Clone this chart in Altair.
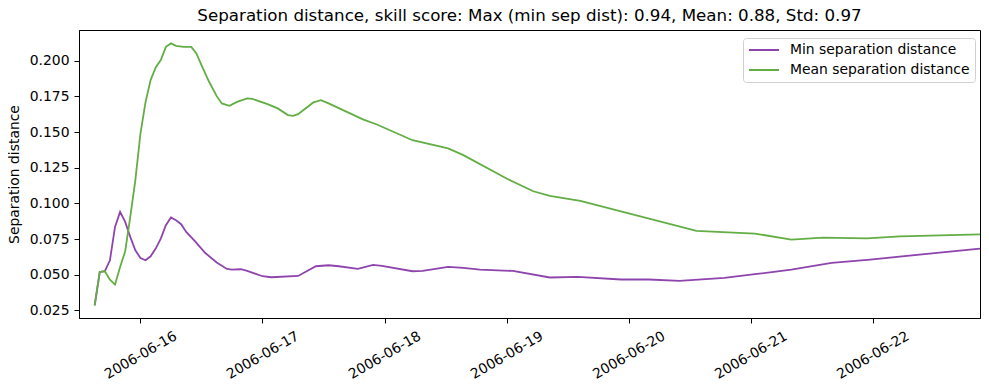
import altair as alt
import pandas as pd

TITLE = "Separation distance, skill score: Max (min sep dist): 0.94, Mean: 0.88, Std: 0.97"
SERIES = ["Min separation distance", "Mean separation distance"]
COLORS = ["#8e44ad", "#62ae44"]

mean_times = [
    "2006-06-15 15:00", "2006-06-15 16:00", "2006-06-15 17:00", "2006-06-15 18:00",
    "2006-06-15 19:00", "2006-06-15 20:00", "2006-06-15 21:00", "2006-06-15 22:00",
    "2006-06-15 23:00", "2006-06-16 00:00", "2006-06-16 01:00", "2006-06-16 02:00",
    "2006-06-16 03:00", "2006-06-16 04:00", "2006-06-16 05:00", "2006-06-16 06:00",
    "2006-06-16 07:00", "2006-06-16 08:30", "2006-06-16 10:00", "2006-06-16 11:00",
    "2006-06-16 12:00", "2006-06-16 13:30", "2006-06-16 15:00", "2006-06-16 16:00",
    "2006-06-16 17:30", "2006-06-16 19:00", "2006-06-16 21:00", "2006-06-16 22:00",
    "2006-06-17 01:00", "2006-06-17 03:00", "2006-06-17 05:00", "2006-06-17 06:00",
    "2006-06-17 07:00", "2006-06-17 10:00", "2006-06-17 11:30", "2006-06-17 13:00",
    "2006-06-17 19:45", "2006-06-17 22:30", "2006-06-18 05:30", "2006-06-18 12:30",
    "2006-06-18 15:30", "2006-06-19 00:00", "2006-06-19 05:15", "2006-06-19 08:30",
    "2006-06-19 14:30", "2006-06-20 13:20", "2006-06-21 00:50", "2006-06-21 08:00",
    "2006-06-21 14:15", "2006-06-21 22:50", "2006-06-22 05:20", "2006-06-22 21:06",
]
mean_vals = [
    0.0285, 0.0519, 0.0524, 0.0465,
    0.0430, 0.0554, 0.0664, 0.0905,
    0.1163, 0.1490, 0.1710, 0.1865,
    0.1953, 0.2005, 0.2098, 0.2122,
    0.2105, 0.2098, 0.2098, 0.2052,
    0.1970, 0.1853, 0.1752, 0.1701,
    0.1684, 0.1712, 0.1736, 0.1733,
    0.1696, 0.1666, 0.1619, 0.1614,
    0.1626, 0.1708, 0.1724, 0.1701,
    0.1589, 0.1553, 0.1443, 0.1385,
    0.1338, 0.1174, 0.1085, 0.1052,
    0.1017, 0.0807, 0.0788, 0.0746,
    0.0760, 0.0755, 0.0769, 0.0783,
]

min_times = [
    "2006-06-15 15:00", "2006-06-15 16:00", "2006-06-15 17:00", "2006-06-15 18:00",
    "2006-06-15 19:00", "2006-06-15 20:00", "2006-06-15 21:00", "2006-06-15 22:00",
    "2006-06-15 23:00", "2006-06-16 00:00", "2006-06-16 01:00", "2006-06-16 02:00",
    "2006-06-16 03:00", "2006-06-16 04:00", "2006-06-16 05:00", "2006-06-16 06:00",
    "2006-06-16 07:00", "2006-06-16 08:00", "2006-06-16 09:00", "2006-06-16 10:45",
    "2006-06-16 12:45", "2006-06-16 15:00", "2006-06-16 17:00", "2006-06-16 18:00",
    "2006-06-16 19:45", "2006-06-16 21:00", "2006-06-17 00:00", "2006-06-17 01:45",
    "2006-06-17 07:00", "2006-06-17 10:30", "2006-06-17 13:00", "2006-06-17 15:00",
    "2006-06-17 18:45", "2006-06-17 21:45", "2006-06-17 23:30", "2006-06-18 05:30",
    "2006-06-18 07:30", "2006-06-18 12:30", "2006-06-18 15:30", "2006-06-18 18:45",
    "2006-06-19 01:15", "2006-06-19 08:30", "2006-06-19 14:00", "2006-06-19 22:30",
    "2006-06-20 04:00", "2006-06-20 10:00", "2006-06-20 18:50", "2006-06-21 00:50",
    "2006-06-21 08:00", "2006-06-21 15:55", "2006-06-21 23:30", "2006-06-22 21:06",
]
min_vals = [
    0.0285, 0.0519, 0.0524, 0.0601,
    0.0835, 0.0940, 0.0870, 0.0765,
    0.0671, 0.0617, 0.0601, 0.0629,
    0.0683, 0.0753, 0.0847, 0.0901,
    0.0882, 0.0854, 0.0800, 0.0734,
    0.0652, 0.0585, 0.0540, 0.0536,
    0.0538, 0.0526, 0.0489, 0.0482,
    0.0491, 0.0559, 0.0566, 0.0559,
    0.0540, 0.0568, 0.0561, 0.0524,
    0.0526, 0.0554, 0.0547, 0.0536,
    0.0526, 0.0480, 0.0484, 0.0466,
    0.0466, 0.0456, 0.0477, 0.0503,
    0.0536, 0.0582, 0.0606, 0.0683,
]

y_ticks = [0.025, 0.050, 0.075, 0.100, 0.125, 0.150, 0.175, 0.200]
x_tick_days = [16, 17, 18, 19, 20, 21, 22]

df = pd.concat([
    pd.DataFrame({"time": pd.to_datetime(min_times), "value": min_vals, "series": SERIES[0]}),
    pd.DataFrame({"time": pd.to_datetime(mean_times), "value": mean_vals, "series": SERIES[1]}),
])

FONT = "DejaVu Sans"
FS = 13.9

x_enc = alt.X(
    "time:T",
    title=None,
    scale=alt.Scale(domain=[
        alt.DateTime(year=2006, month=6, date=15, hours=11, minutes=55),
        alt.DateTime(year=2006, month=6, date=22, hours=21, minutes=6),
    ]),
    axis=alt.Axis(
        values=[alt.DateTime(year=2006, month=6, date=d) for d in x_tick_days],
        format="%Y-%m-%d",
        labelAngle=330,
        labelAlign="center",
        labelBaseline="middle",
        labelPadding=32,
        grid=False,
        labelFlush=False,
        labelOverlap=False,
    ),
)
y_enc = alt.Y(
    "value:Q",
    title="Separation distance",
    scale=alt.Scale(domain=[0.0196, 0.2216], nice=False, zero=False),
    axis=alt.Axis(values=y_ticks, format=".3f", grid=False, labelPadding=5, titlePadding=8),
)
color_enc = alt.Color(
    "series:N",
    scale=alt.Scale(domain=SERIES, range=COLORS),
    legend=alt.Legend(
        title=None,
        orient="none",
        legendX=664,
        legendY=8,
        symbolType="M-1,0H4",
        symbolSize=144,
        symbolStrokeWidth=2,
        symbolFillColor="transparent",
        labelFontSize=FS,
        labelFont=FONT,
        labelColor="black",
        labelOffset=28,
        labelLimit=400,
        padding=5,
        rowPadding=6,
        strokeColor="#d0d0d0",
        fillColor="white",
        cornerRadius=3,
    ),
)

base = alt.Chart(df).encode(x=x_enc, y=y_enc, color=color_enc)
min_line = base.transform_filter(alt.datum.series == SERIES[0]).mark_line(strokeWidth=1.8)
mean_line = base.transform_filter(alt.datum.series == SERIES[1]).mark_line(strokeWidth=1.8)

chart = alt.layer(min_line, mean_line).properties(
    width=901,
    height=288,
    background="white",
    title=alt.TitleParams(TITLE, fontSize=16.7, font=FONT, fontWeight="normal", color="black", offset=5),
    autosize=alt.AutoSizeParams(type="none"),
    padding={"left": 71, "top": 22, "right": 1, "bottom": 71},
).configure_view(
    stroke="black", strokeWidth=1
).configure_axis(
    labelFont=FONT, labelFontSize=FS, labelColor="black",
    titleFont=FONT, titleFontSize=FS, titleColor="black", titleFontWeight="normal",
    domainColor="black", domainWidth=1, tickColor="black", tickWidth=1, tickSize=5,
)

chart.save("out.html", embed_options={"renderer": "svg", "actions": False})
